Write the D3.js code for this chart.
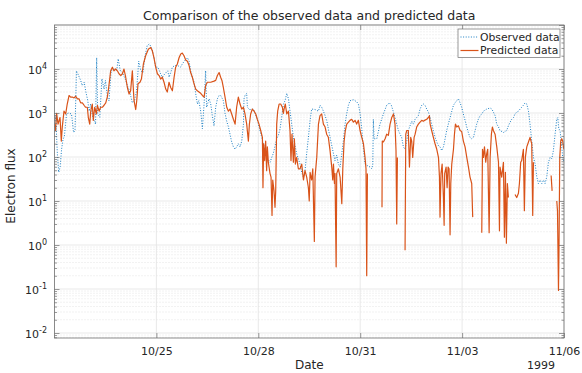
<!DOCTYPE html>
<html>
<head>
<meta charset="utf-8">
<script src="https://cdn.jsdelivr.net/npm/d3@7"></script>
<style>
    body { margin: 0; background: #fff; }
    text { font-family: "DejaVu Sans", sans-serif; fill: #262626; }
</style>
</head>
<body>
<div id="chart"></div>
<script>
// hours after 22 Oct 1999 00:00
var obsHours = [0,1,2,3,4,5,6,7,8.5,10,12,13.5,14.5,15.5,17,18.5,19.5,21,22,23.5,24.5,25.5,27,28,29,29.8,30.5,32,33.5,35,36,37.5,38.5,40,42,44,45,46.5,48,50,51.5,53,55,56.5,58,59.5,61,62.5,64,65.5,67,68,69,70.3,71.5,73,75,76.2,78,80,81,83.3,85,87,89,90.3,92,94,95.1,96.2,97.4,98.6,99.8,101,102,103.3,104.5,105.7,106.8,107.5,109.2,110.4,111.5,112.7,113.9,115.1,116.3,117.4,118.3,119.3,120.5,121.7,122.9,124,125.2,126.4,127.6,128.7,129.9,131.1,132.3,133.5,133.9,134.6,135.8,136.3,137.7,139.3,140.5,142.9,145.2,147.6,149.9,152.3,153.5,154.6,157,158.2,159.4,160.5,161.7,162.9,164.1,165.3,166.4,167.6,168.8,171.1,173.5,174.7,175.9,177,178.2,179.4,180.6,181.7,184.1,186.5,187.6,188.8,190,191.2,192.3,194.7,197.1,198.2,199.4,200.6,201.8,203,204.1,205.3,206.5,207.7,208.8,211.2,213.5,214.7,215.9,217.1,218.3,219.4,220.6,223,224.2,224.9,225.3,225.8,227.7,230,232.4,234.7,236.6,238,239.5,240.6,241.8,243,244.2,245.3,246.5,247.7,248.9,250,251.2,252.4,253.6,254.8,255.9,257.1,258.3,259.5,260.7,261.8,263,264.2,265.4,266.5,267.7,268.9,270.1,271.3,272.4,273.6,274.8,276,277.1,278.3,279.5,280.7,281.9,283,284.2,285.4,286.6,287.7,288.9,290.1,291.3,292.5,293.6,294.8,296,297.2,298.3,299.5,300.7,301.9,303.1,305.4,307.8,309,310.1,311.3,312.5,313.7,314.8,317.2,319.5,320.7,321.9,323.1,324.3,325.4,326.6,327.8,329,330.1,331.3,332.5,333.7,334.9,336,337.2,338.4,339.6,340.8,341.9,343.1,344.3,345.5,346.6,347.8,349,350.2,351.4,352.5,353.7,354.9,355.6,356.3,357.2,358.4,359.1,360];
var obsFlux = [1000,700,120,45,60,150,250,300,950,1000,950,360,400,9100,7100,5500,4200,5000,3200,1900,1100,1600,800,700,560,18000,950,800,6000,3500,5500,2200,1900,9100,10000,9500,17000,9100,8300,5900,4200,3200,1700,1900,3200,15000,9100,8300,20000,34000,37000,33000,28000,18000,11000,11000,7800,6500,7800,9100,6500,11000,12000,12000,11000,13000,15500,18000,15000,9100,6500,5000,2700,1600,1900,1100,440,1600,9100,1350,2100,1600,870,510,1350,2100,2500,2500,2200,1900,980,650,480,330,220,170,150,170,200,170,230,560,2100,2500,2800,1350,1200,1200,1230,790,400,200,98,76,98,120,260,310,440,790,1600,1900,2800,2100,1100,560,280,120,69,45,35,49,120,280,680,1230,1200,1100,1500,1350,1100,870,680,280,120,83,110,69,59,120,230,560,980,1500,1900,2000,1800,1600,980,440,150,69,65,59,54,69,720,260,260,560,950,1500,1700,1500,1050,790,560,400,330,280,170,150,230,400,510,650,560,720,790,870,1230,1500,1600,1500,1230,1050,790,560,400,280,220,180,170,140,170,260,400,560,790,1100,1500,1700,1900,2100,1700,1350,950,680,480,350,280,260,280,400,560,720,870,950,1100,1230,1300,1230,1050,870,560,480,400,360,400,510,620,720,790,950,1050,1100,1230,1350,1500,1700,1600,1100,560,230,98,69,35,25,30,25,30,25,35,76,98,91,140,330,720,790,440,400,170,98,80];

var predHours = [0,0.7,1.5,2.5,3.9,4.8,5.5,6.7,7.9,9,10.3,11.4,12.6,13.8,15,16.2,17.3,18.5,19.7,20.9,22,23.2,23.9,24.9,25.6,26.7,27.4,28.4,29.6,30.3,31.5,32.6,33.8,35,36.2,37.3,38,39,39.7,40.9,42,43.2,44.4,45.6,46.8,48,49.1,50.3,51.5,52.7,53.8,55,55.5,56.2,57.4,58.1,59,60.4,61.4,62.8,64.4,66.3,68,69.1,70.3,71.5,72.7,73.9,75,76.2,77.4,78.6,79.7,80.9,82.1,83.3,84.5,85.6,86.8,88,89.2,90.3,91.5,92.7,93.9,95.1,96.2,97.4,98.6,99.8,100.9,102.1,103.3,104.5,105.7,106.8,108,110.4,112.7,113.9,115.1,116.3,117.4,118.3,119.3,120.5,121.7,122.9,124,125.2,126.4,127.6,128.7,129.9,131.1,132.3,133.5,134.6,135.8,137,137.7,138.6,139.8,141,142.2,143.3,144.5,145.7,146.9,147.3,147.8,148.5,149.2,149.9,150.4,151.1,152.3,153,153.7,154.2,155.1,155.8,156.3,157,157.7,158.7,159.8,161,161.7,162.2,163.1,164.1,165.3,166.4,167.1,167.8,168.8,169.5,170.2,171.1,172.3,173.5,174.7,175.9,177,178.2,179.4,180,180.6,181.7,182.5,183.6,184.1,185.3,186.5,187.6,188.8,190,191.2,192.3,193.5,194.7,195.9,196.6,197.1,197.8,198.2,199,199.4,200.6,201.8,203,203.7,204.6,205.5,206.5,207.7,208.8,210,211.2,212.4,213.5,214.7,215.9,217.1,218.3,219.4,220.1,220.6,221.1,222,231.4,231.6,232.4,233.6,234.7,235.9,237.1,238.3,239.5,240.6,241.3,241.8,242.3,243,247.7,248.2,248.9,250,250.8,251.7,252.4,253.1,254.1,254.8,255.9,257.1,258.3,259.5,260.7,261.8,263,264.2,264.9,265.4,266.5,267.7,268.9,270.1,271.3,272,272.4,273.1,273.9,274.8,275.3,275.7,276.7,277.4,278.1,278.8,279.5,280,280.7,281.9,282.6,283.3,284.2,285.4,286.6,287.7,288.9,290.1,291.3,292.5,293.6,294.8,295.5,296,301.9,302.4,303.1,303.8,304.7,305.4,306.1,307.1,307.8,308.7,309.4,310.1,311.3,312.5,313.7,314.4,314.8,316,317.2,317.9,318.6,319.3,320,320.7,321.5,325.4,326.6,327.8,328.5,329.4,330.1,331.3,332,332.7,333.7,334.9,336,337.2,337.9,338.4,339,350.9,351.6,352,354.9,355.4,356.1,356.5,357,357.7,358.4,359.1,359.6,360];
var predFlux = [560,400,980,560,790,230,480,1100,950,1600,2500,2300,2300,2200,2400,2100,2100,1700,1700,1500,1350,1350,790,560,1100,1600,680,1350,950,1500,1100,1350,1350,1500,1700,2300,3200,5900,9100,11000,9100,10000,9100,7800,7100,7800,10000,6500,3800,2700,3200,9100,4600,1900,1200,1900,4600,5000,5900,13000,20000,28000,31000,26000,18000,11000,7800,7100,5900,6500,5000,3500,3000,5000,3800,3200,6500,11000,13000,18000,22000,23000,20000,16000,15000,12000,8300,6500,4600,3500,3200,3000,2800,2500,2300,4200,5000,5000,5300,5500,7100,8300,6500,5500,3800,2300,1350,1100,1230,950,720,560,1350,2300,1600,1230,1350,950,560,230,560,950,1230,1100,950,720,560,400,280,20,200,83,230,49,170,76,42,35,4.7,30,17,7.2,17,560,1100,1600,1600,1350,980,1230,1600,950,1100,400,83,330,76,260,69,98,54,54,69,30,49,35,20,10,45,30,54,1.2,35,98,560,870,950,560,480,330,280,140,59,30,69,25,42,0.32,42,54,35,8.7,54,220,400,560,620,680,720,620,680,560,680,400,280,200,98,54,0.2,42,null,7.2,230,220,260,330,310,560,790,950,560,140,3,98,null,0.76,330,400,400,59,280,230,98,280,330,480,560,620,680,650,690,720,790,870,560,400,280,200,150,98,35,4.3,42,69,12,2.8,42,59,20,59,54,1.7,25,69,150,330,560,480,510,400,380,230,170,98,59,35,25,4.3,null,1.9,150,98,170,76,120,150,1.9,98,330,480,400,330,170,76,2.1,59,35,76,1.5,45,1.1,25,12,null,14,12,15,25,76,83,150,6,98,170,220,280,200,4.7,76,null,38,17,null,10,6,0.093,1.1,98,230,260,230,170,150];

var startDate = new Date(1999, 9, 22);
var dateTicks = [new Date(1999, 9, 25), new Date(1999, 9, 28), new Date(1999, 9, 31), new Date(1999, 10, 3), new Date(1999, 10, 6)];
var yMajor = [1e-2, 1e-1, 1, 1e1, 1e2, 1e3, 1e4, 1e5];
var seriesNames = ["Observed data", "Predicted data"];

var margin = {top: 25, right: 18, bottom: 35, left: 54.5},
    width = 582 - margin.left - margin.right,
    height = 373 - margin.top - margin.bottom;

var svg = d3.select("#chart").append("svg")
    .attr("width", 582)
    .attr("height", 373);

var g = svg.append("g")
    .attr("transform", "translate(" + margin.left + "," + margin.top + ")");

var x = d3.scaleTime()
    .domain([startDate, new Date(1999, 10, 6)])
    .range([0, width]);

var y = d3.scaleLog()
    .domain([0.0077, 1e5])
    .range([height, 0]);

function toDate(h) { return new Date(startDate.getTime() + h * 3600 * 1000); }

var obs = obsHours.map(function(h, i) { return {date: toDate(h), v: obsFlux[i]}; });
var pred = predHours.map(function(h, i) { return {date: toDate(h), v: predFlux[i]}; });

// minor y values 2..9 per decade
var yMinor = [];
for (var k = -3; k < 5; k++) {
    for (var m = 2; m <= 9; m++) {
        var val = m * Math.pow(10, k);
        if (val > 0.0077 && val < 1e5) yMinor.push(val);
    }
}

// grid
g.append("g").selectAll("line").data(yMinor).enter().append("line")
    .attr("x1", 0).attr("x2", width)
    .attr("y1", function(d) { return y(d); }).attr("y2", function(d) { return y(d); })
    .attr("stroke", "#d4d4d4").attr("stroke-width", 0.6)
    .attr("stroke-dasharray", "1,2");

g.append("g").selectAll("line").data(yMajor).enter().append("line")
    .attr("x1", 0).attr("x2", width)
    .attr("y1", function(d) { return y(d); }).attr("y2", function(d) { return y(d); })
    .attr("stroke", "#e3e3e3").attr("stroke-width", 0.8);

g.append("g").selectAll("line").data(dateTicks).enter().append("line")
    .attr("y1", 0).attr("y2", height)
    .attr("x1", function(d) { return x(d); }).attr("x2", function(d) { return x(d); })
    .attr("stroke", "#e3e3e3").attr("stroke-width", 0.8);

g.append("defs").append("clipPath")
    .attr("id", "clip")
    .append("rect")
    .attr("width", width)
    .attr("height", height);

var line = d3.line()
    .defined(function(d) { return d.v != null; })
    .x(function(d) { return x(d.date); })
    .y(function(d) { return y(d.v); });

g.append("path")
    .datum(obs)
    .attr("clip-path", "url(#clip)")
    .attr("fill", "none")
    .attr("stroke", "#0072BD")
    .attr("stroke-width", 0.9)
    .attr("stroke-dasharray", "1,1.6")
    .attr("d", line);

g.append("path")
    .datum(pred)
    .attr("clip-path", "url(#clip)")
    .attr("fill", "none")
    .attr("stroke", "#D95319")
    .attr("stroke-width", 1.2)
    .attr("stroke-linejoin", "round")
    .attr("d", line);

// axes
var axisColor = "#6e6e6e";

var xAxis = d3.axisBottom(x).tickValues(dateTicks).tickFormat(d3.timeFormat("%m/%d"))
    .tickSizeInner(-5).tickSizeOuter(0).tickPadding(9);
var gx = g.append("g").attr("transform", "translate(0," + height + ")").call(xAxis);

g.append("g").call(d3.axisTop(x).tickValues(dateTicks).tickFormat("").tickSizeInner(-5).tickSizeOuter(0));

var yAxis = d3.axisLeft(y).tickValues(yMajor.slice(0, 7)).tickFormat("").tickSizeInner(-5).tickSizeOuter(0).tickPadding(7);
var gy = g.append("g").call(yAxis);
g.append("g").attr("transform", "translate(" + width + ",0)")
    .call(d3.axisRight(y).tickValues(yMajor).tickFormat("").tickSizeInner(-5).tickSizeOuter(0));
g.append("g").call(d3.axisLeft(y).tickValues(yMinor).tickFormat("").tickSizeInner(-2.5).tickSizeOuter(0));
g.append("g").attr("transform", "translate(" + width + ",0)")
    .call(d3.axisRight(y).tickValues(yMinor).tickFormat("").tickSizeInner(-2.5).tickSizeOuter(0));

g.selectAll(".domain").remove();
g.selectAll(".tick line").attr("stroke", axisColor).attr("stroke-width", 0.7);

gx.selectAll(".tick text").attr("font-size", 11).attr("fill", "#262626")
    .attr("font-family", "DejaVu Sans, sans-serif");

gy.selectAll(".tick").append("text")
    .attr("x", -7.5).attr("dy", "0.38em")
    .attr("text-anchor", "end")
    .attr("font-size", 11)
    .each(function(d) {
        var t = d3.select(this);
        t.append("tspan").text("10");
        t.append("tspan").attr("dy", "-0.55em").attr("font-size", 8)
            .text(String(Math.round(Math.log10(d))));
    });

g.append("rect")
    .attr("width", width).attr("height", height)
    .attr("fill", "none").attr("stroke", axisColor).attr("stroke-width", 0.8);

// labels
svg.append("text")
    .attr("x", margin.left + width / 2).attr("y", 20)
    .attr("text-anchor", "middle").attr("font-size", 12.5)
    .text("Comparison of the observed data and predicted data");

svg.append("text")
    .attr("x", margin.left + width / 2).attr("y", 369)
    .attr("text-anchor", "middle").attr("font-size", 12)
    .text("Date");

svg.append("text")
    .attr("x", margin.left + width - 9).attr("y", 369)
    .attr("text-anchor", "end").attr("font-size", 11)
    .text("1999");

svg.append("text")
    .attr("transform", "translate(15," + 186 + ") rotate(-90)")
    .attr("text-anchor", "middle").attr("font-size", 12)
    .text("Electron flux");

// legend
var legend = g.append("g")
    .attr("transform", "translate(" + (width - 106) + "," + 4 + ")");

legend.append("rect")
    .attr("width", 102).attr("height", 28.5)
    .attr("fill", "#fff").attr("stroke", axisColor).attr("stroke-width", 0.7);

legend.selectAll("line")
    .data(seriesNames)
    .enter()
    .append("line")
    .attr("x1", 2.5).attr("x2", 20.5)
    .attr("y1", function(d, i) { return 8 + 13.5 * i; })
    .attr("y2", function(d, i) { return 8 + 13.5 * i; })
    .attr("stroke", function(d, i) { return i == 0 ? "#0072BD" : "#D95319"; })
    .attr("stroke-width", function(d, i) { return i == 0 ? 0.9 : 1.2; })
    .attr("stroke-dasharray", function(d, i) { return i == 0 ? "1,1.6" : null; });

legend.selectAll("text")
    .data(seriesNames)
    .enter()
    .append("text")
    .attr("x", 22)
    .attr("y", function(d, i) { return 8 + 13.5 * i; })
    .attr("dy", "0.36em")
    .attr("font-size", 10.8)
    .text(function(d) { return d; });
</script>
</body>
</html>
